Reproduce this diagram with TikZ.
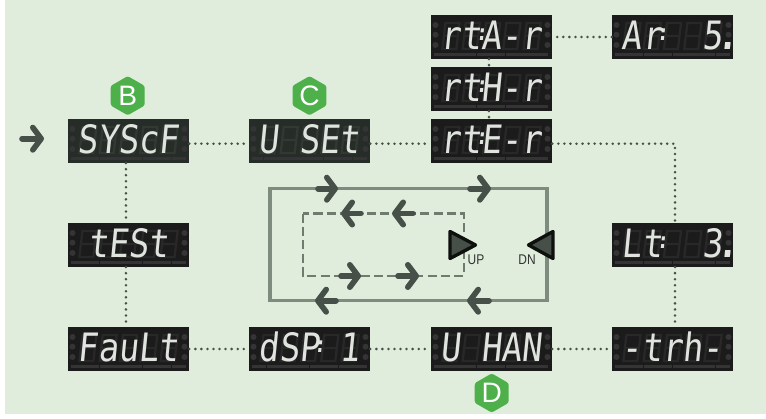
\documentclass[tikz,border=0pt]{standalone}
\usepackage{fontspec}
\usetikzlibrary{arrows.meta,shapes.geometric}
\newfontfamily\segfont{DejaVu Sans Mono}[FakeStretch=0.86,FakeSlant=0.1]
\newfontfamily\tagfont{Liberation Sans}
\newfontfamily\keyfont{Liberation Sans}[FakeStretch=0.85]
\definecolor{panelgreen}{RGB}{225,237,220}
\definecolor{boxblack}{RGB}{27,27,27}
\definecolor{boxgreen}{RGB}{38,44,39}
\definecolor{ghostgrey}{RGB}{40,40,40}
\definecolor{ghostgreen}{RGB}{50,57,51}
\definecolor{stripgrey}{RGB}{52,52,52}
\definecolor{litwhite}{RGB}{224,228,222}
\definecolor{arrowgrey}{RGB}{70,80,72}
\definecolor{loopgrey}{RGB}{125,140,126}
\definecolor{dashgrey}{RGB}{110,124,112}
\definecolor{tagfill}{RGB}{77,176,74}
\tikzset{
  display/.style={fill=boxblack,minimum width=3.025cm,minimum height=1.09cm,inner sep=0pt},
  ghostseg/.style={draw=ghostgrey,line width=1.6pt},
  segtext/.style={font=\segfont\fontsize{27.8}{27.8}\selectfont,text=litwhite,inner sep=0pt,anchor=base},
  dotline/.style={draw=arrowgrey,line width=2pt,line cap=round,dash pattern=on 0pt off 4.3pt},
  flowarrow/.style={draw=arrowgrey,line width=4pt,line cap=round,-{Straight Barb[round,length=2.1mm,width=5.6mm]}},
  keytri/.style={fill=arrowgrey,draw=black!80!arrowgrey,line width=2.4pt,line join=round},
  keytext/.style={font=\keyfont\fontsize{10}{10}\selectfont,text=black!80,inner sep=0pt},
  badge/.style={regular polygon,regular polygon sides=6,shape border rotate=30,minimum size=0.98cm,inner sep=0pt,
    fill=tagfill,rounded corners=1.5pt,text=white,font=\tagfont\fontsize{20}{20}\selectfont}
}
\newcommand{\colonmark}{\makebox[0pt]{\raisebox{6.4pt}{\fontsize{16}{16}\selectfont\textbf{:}}}}
\newcommand{\litdot}{\makebox[0pt]{\hspace{6pt}\textbf{.}}}
% name, centre x, centre y, text, strip pieces
\newcommand{\display}[5]{
  \node[display] (#1) at (#2,#3) {};
  \foreach \i in {-2,...,2}
    \draw[ghostseg,shift={(#2+\i*20.3,#3-1)},xslant=0.12] (-7,-13) rectangle (7,13) (-7,0) -- (7,0);
  \foreach \j in {-12,-2.3,8} {
    \fill[stripgrey] (#2-56,#3+\j) circle (3);
    \fill[stripgrey] (#2+56,#3+\j) circle (3);
  }
  \foreach \a/\b in {#5}
    \fill[stripgrey] (#2-60.5+\a,#3+16) rectangle (#2-60.5+\b,#3+19.3);
  \node[segtext] (#1text) at (#2,#3+12.3) {#4};
}

\begin{document}
\begin{tikzpicture}[x=0.025cm,y=-0.025cm]

\useasboundingbox (0,0) rectangle (766,419);
\fill[panelgreen] (5,0) rectangle (766,414);

\begin{scope}[display/.append style={fill=boxgreen},ghostseg/.append style={draw=ghostgreen}]
\display{sysbox}{128.5}{141}{SYScF}{3/31,32/74,75/103,104/118}
\display{setbox}{309.5}{141}{U SEt}{3/14,15/74,75/103,104/118}
\end{scope}
\display{testbox}{128.5}{245}{tESt\ }{3/31,32/74,75/103,104/118}
\display{rtabox}{491.5}{37}{rt\colonmark A-r}{3/45,46/74,75/117}
\display{rthbox}{491.5}{89}{rt\colonmark H-r}{3/45,46/74,75/117}
\display{rtebox}{491.5}{141}{rt\colonmark E-r}{3/45,46/74,75/117}
\display{arbox}{672.5}{37}{Ar\colonmark\ \ 5\litdot}{3/31,32/60,61/103,104/118}
\display{ltbox}{672.5}{245}{Lt\colonmark\ \ 3\litdot}{3/31,32/60,61/103,104/118}
\display{faultbox}{128.5}{349}{FauLt}{3/31,32/74,75/103,104/118}
\display{dspbox}{309.5}{349}{dSP\colonmark\ 1}{3/17,18/60,61/89,90/118}
\display{hanbox}{491.5}{349}{U HAN}{3/45,46/74,75/117}
\display{trhbox}{672.5}{349}{-trh-}{3/31,32/60,61/103,104/118}

\coordinate (rtecorner) at (675,143.7);

\draw[dotline] ([yshift=-1.9pt]sysbox.east) -- ([yshift=-1.9pt]setbox.west);
\draw[dotline] ([yshift=-1.9pt]setbox.east) -- ([yshift=-1.9pt]rtebox.west);
\draw[dotline] ([yshift=-1.9pt]rtebox.east) -- (rtecorner) -- (rtecorner |- ltbox.north);
\draw[dotline] (ltbox.south -| rtecorner) -- (rtecorner |- trhbox.north);
\draw[dotline] ([xshift=-1.8pt]rtabox.south) -- ([xshift=-1.8pt]rthbox.north);
\draw[dotline] ([xshift=-1.8pt]rthbox.south) -- ([xshift=-1.8pt]rtebox.north);
\draw[dotline] (arbox.west) -- (rtabox.east);
\draw[dotline] ([xshift=-1.8pt]sysbox.south) -- ([xshift=-1.8pt]testbox.north);
\draw[dotline] ([xshift=-1.8pt]testbox.south) -- ([xshift=-1.8pt]faultbox.north);
\draw[dotline] (faultbox.east) -- (dspbox.west);
\draw[dotline] (dspbox.east) -- (hanbox.west);
\draw[dotline] (hanbox.east) -- (trhbox.west);

\coordinate (entrytail) at (22,138.7);
\coordinate (entrytip) at (44,138.7);
\draw[flowarrow] (entrytail) -- (entrytip);

\draw[loopgrey,line width=2.2pt] (270,188.7) rectangle (547,300.7);
\draw[dashgrey,line width=1.7pt,dash pattern=on 6.5pt off 3pt] (303,213.5) rectangle (464,276);

\draw[flowarrow] (318,188.7) -- (338,188.7);
\draw[flowarrow] (470,188.7) -- (491,188.7);
\draw[flowarrow] (336,300.7) -- (315,300.7);
\draw[flowarrow] (489,300.7) -- (467,300.7);
\draw[flowarrow] (361,213.5) -- (341,213.5);
\draw[flowarrow] (413,213.5) -- (392,213.5);
\draw[flowarrow] (341,276) -- (361,276);
\draw[flowarrow] (398,276) -- (419,276);

\draw[keytri] (450,231.5) -- (475.5,245) -- (450,258.5) -- cycle;
\draw[keytri] (553,231.5) -- (528.5,245) -- (553,258.5) -- cycle;
\node[keytext] (uplabel) at (476,260) {UP};
\node[keytext] (dnlabel) at (527,260) {DN};

\node[badge] (tagb) at (127.7,95.7) {B};
\node[badge] (tagc) at (309.5,95.7) {C};
\node[badge] (tagd) at (491.7,393) {D};

\end{tikzpicture}
\end{document}
